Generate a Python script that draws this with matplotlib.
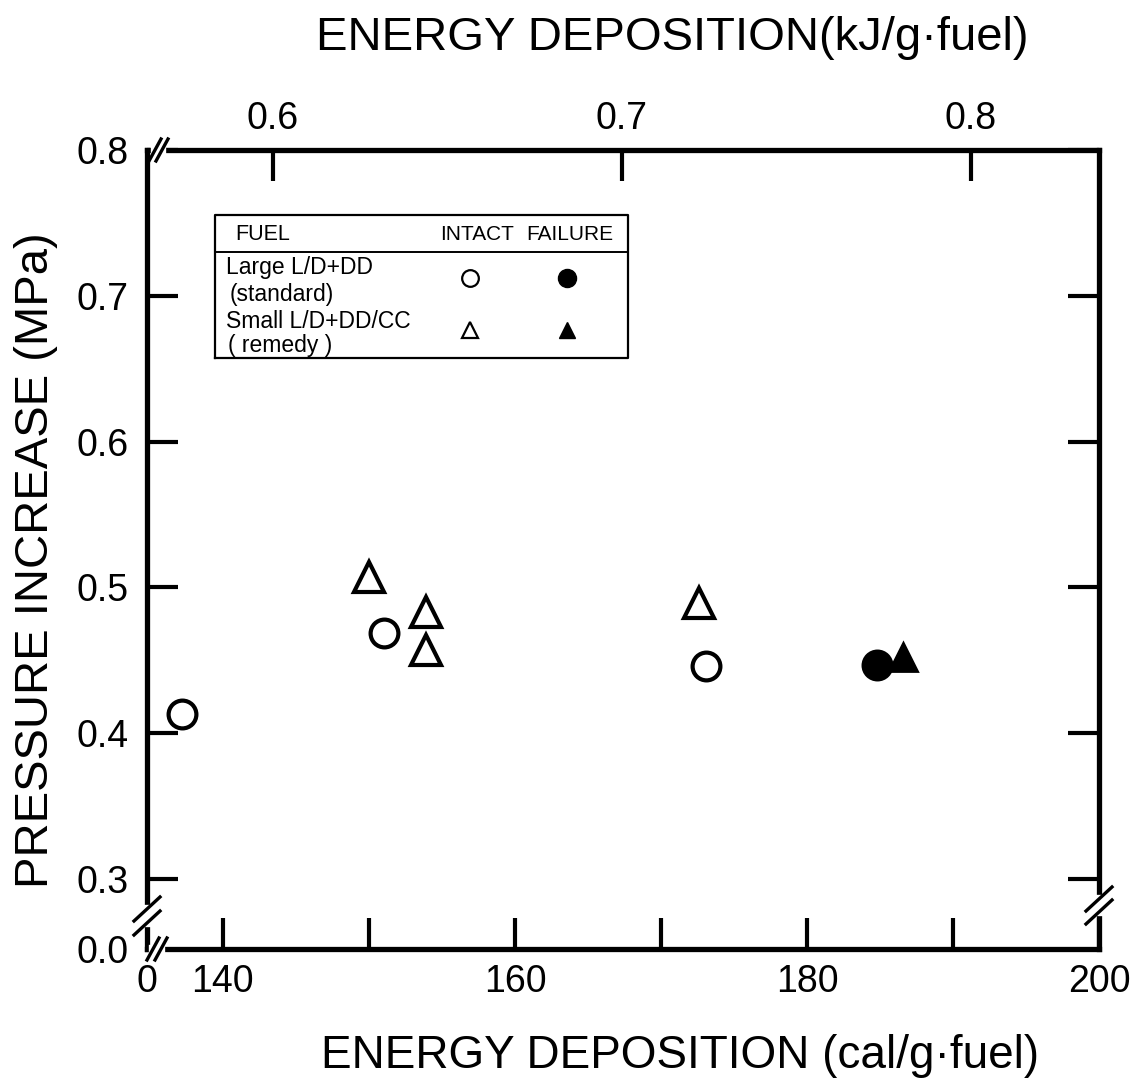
import matplotlib
matplotlib.use('Agg')
from matplotlib import pyplot as plt

# energy deposition (cal/g fuel) vs pressure increase (MPa)
std_intact_x = [137.2, 151.0, 173.1]
std_intact_y = [0.413, 0.469, 0.446]
std_fail_x = [184.8]
std_fail_y = [0.447]
rem_intact_x = [150.0, 153.9, 153.9, 172.6]
rem_intact_y = [0.507, 0.483, 0.457, 0.489]
rem_fail_x = [186.6]
rem_fail_y = [0.452]

x_ticks = [140, 150, 160, 170, 180, 190, 200]
x_labels = ['140', '', '160', '', '180', '', '200']
y_ticks = [0.3, 0.4, 0.5, 0.6, 0.7, 0.8]
y_labels = ['0.3', '0.4', '0.5', '0.6', '0.7', '0.8']
kj_ticks = [0.6, 0.7, 0.8]
kj_labels = ['0.6', '0.7', '0.8']

legend_header = ['FUEL', 'INTACT', 'FAILURE']
legend_rows = [('Large L/D+DD', '(standard)'), ('Small L/D+DD/CC', '( remedy )')]

# broken axes: left / bottom ends are labelled 0
X_MIN, X_MAX = 134.8, 200
Y_MIN, Y_MAX = 0.252, 0.8

plt.rcParams['font.family'] = ['Liberation Sans', 'DejaVu Sans']

W, H = 1134, 1092
fig = plt.figure(figsize=(W / 100, H / 100), dpi=100)
ax = fig.add_axes([147 / W, 1 - 949 / H, 952 / W, 799 / H])
AW, AH = 952, 799  # axes size in px

ax.set_xlim(X_MIN, X_MAX)
ax.set_ylim(Y_MIN, Y_MAX)

for s in ax.spines.values():
    s.set_linewidth(3.8)

ax.set_xticks(x_ticks, x_labels)
ax.set_yticks(y_ticks, y_labels)
ax.set_xticks([X_MIN], ['0'], minor=True)
ax.set_yticks([Y_MIN], ['0.0'], minor=True)
ax.tick_params(which='major', direction='in', length=22, width=3,
               top=False, right=True, labelsize=27, pad=11)
ax.tick_params(which='minor', length=0, labelsize=27, pad=11)
ax.tick_params(axis='y', which='both', pad=13)

sec = ax.secondary_xaxis('top', functions=(lambda c: c * 4.184 / 1000,
                                            lambda k: k * 1000 / 4.184))
sec.set_xticks(kj_ticks, kj_labels)
sec.tick_params(direction='in', length=22, width=3, labelsize=27, pad=9)
sec.spines['top'].set_visible(False)

# markers
ax.plot(std_intact_x, std_intact_y, 'o', ls='none', ms=20, mew=3,
        mfc='white', mec='black', zorder=3)
ax.plot(std_fail_x, std_fail_y, 'o', ls='none', ms=21, mew=2,
        mfc='black', mec='black', zorder=3)
ax.plot(rem_intact_x, rem_intact_y, '^', ls='none', ms=22, mew=3,
        mfc='white', mec='black', zorder=3)
ax.plot(rem_fail_x, rem_fail_y, '^', ls='none', ms=20, mew=2,
        mfc='black', mec='black', zorder=3)


def px(x, y):
    # pixel offset from the axes' lower-left corner -> axes fraction
    return x / AW, y / AH


def axis_break(cx, cy, horizontal):
    # white gap on the spine plus two slashes
    t = ax.transAxes
    if horizontal:
        a, b = px(cx[0], cy), px(cx[1], cy)
        ax.plot([a[0], b[0]], [a[1], b[1]], color='white', lw=6,
                transform=t, clip_on=False, zorder=10)
        for x in cx:
            p0, p1 = px(x - 6, cy - 11), px(x + 6, cy + 11)
            ax.plot([p0[0], p1[0]], [p0[1], p1[1]], color='black', lw=2.4,
                    transform=t, clip_on=False, zorder=11)
    else:
        a, b = px(cx, cy[0]), px(cx, cy[1])
        ax.plot([a[0], b[0]], [a[1], b[1]], color='white', lw=6,
                transform=t, clip_on=False, zorder=10)
        for y in cy:
            p0, p1 = px(cx - 13, y - 12), px(cx + 13, y + 12)
            ax.plot([p0[0], p1[0]], [p0[1], p1[1]], color='black', lw=2.4,
                    transform=t, clip_on=False, zorder=11)


axis_break(0, (26, 40), horizontal=False)
axis_break(AW, (37, 50), horizontal=False)
axis_break((6, 14), 0, horizontal=True)
axis_break((8, 15), AH, horizontal=True)

# legend table
t = ax.transAxes
x0, x1 = px(68, 0)[0], px(481, 0)[0]
y0, y1 = px(0, 949 - 358)[1], px(0, 949 - 215)[1]
ydiv = px(0, 949 - 252)[1]
ax.plot([x0, x1, x1, x0, x0], [y0, y0, y1, y1, y0], color='black', lw=1.6,
        transform=t, zorder=4)
ax.plot([x0, x1], [ydiv, ydiv], color='black', lw=1.4, transform=t, zorder=4)


def lt(xp, yp, s, ha='left', size=16.5):
    ax.text((xp - 147) / AW, (949 - yp) / AH, s, ha=ha, va='center',
            fontsize=size, transform=t, zorder=5)


lt(235, 234, legend_header[0], size=15.5)
lt(477, 234, legend_header[1], ha='center', size=15)
lt(570, 234, legend_header[2], ha='center', size=15)
lt(226, 267, legend_rows[0][0])
lt(230, 294, legend_rows[0][1])
lt(226, 321, legend_rows[1][0])
lt(228, 345, legend_rows[1][1])

ax.plot((470 - 147) / AW, (949 - 278) / AH, 'o', ms=12, mew=1.6,
        mfc='white', mec='black', transform=t, zorder=5)
ax.plot((567 - 147) / AW, (949 - 278) / AH, 'o', ms=13, mew=1,
        mfc='black', mec='black', transform=t, zorder=5)
ax.plot((470 - 147) / AW, (949 - 330) / AH, '^', ms=12, mew=1.6,
        mfc='white', mec='black', transform=t, zorder=5)
ax.plot((567 - 147) / AW, (949 - 330) / AH, '^', ms=12, mew=1,
        mfc='black', mec='black', transform=t, zorder=5)

# axis titles
fig.text(672 / W, 1 - 38 / H, 'ENERGY DEPOSITION(kJ/g·fuel)',
         ha='center', va='center', fontsize=34)
fig.text(680 / W, 1 - 1056 / H, 'ENERGY DEPOSITION (cal/g·fuel)',
         ha='center', va='center', fontsize=33)
fig.text(36 / W, 1 - 560 / H, 'PRESSURE INCREASE (MPa)',
         ha='center', va='center', rotation=90, fontsize=34)

fig.savefig('out.png', dpi=100)
